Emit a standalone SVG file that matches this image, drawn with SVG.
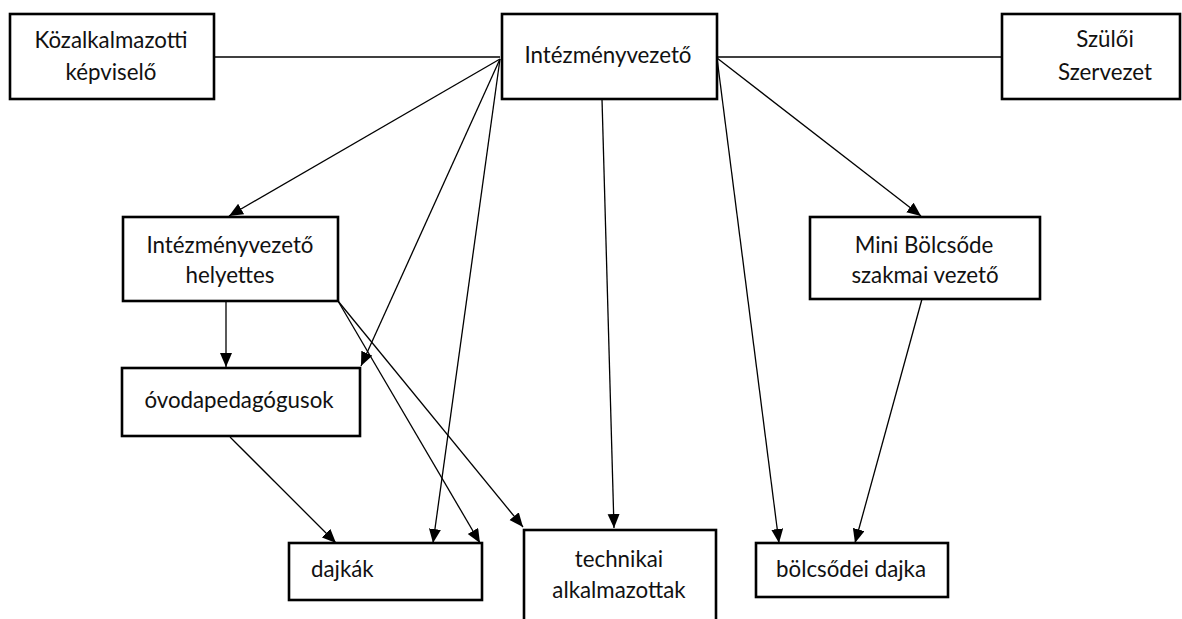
<svg xmlns="http://www.w3.org/2000/svg" width="1182" height="619" viewBox="0 0 1182 619">
<style>
.box{fill:#fff;stroke:#000;stroke-width:2.6}
.t{font-family:Lato,"Open Sans",sans-serif;font-size:22.3px;fill:#111}
.c{text-anchor:middle}
.ln{stroke:#000;stroke-width:1.3;fill:none}
.ar{marker-end:url(#ah)}
</style>
<defs>
<marker id="ah" markerUnits="userSpaceOnUse" markerWidth="15" markerHeight="13" refX="14" refY="6" orient="auto">
<path d="M0,0 L14,6 L0,12 z" fill="#000"/>
</marker>
</defs>
<rect width="1182" height="619" fill="#fff"/>
<g id="connectors">
<line class="ln" x1="214" y1="57" x2="500" y2="57"/>
<line class="ln" x1="717" y1="57" x2="1002" y2="57"/>
<line class="ln ar" x1="500" y1="59" x2="229" y2="216"/>
<line class="ln ar" x1="500" y1="59" x2="361" y2="366"/>
<line class="ln ar" x1="500" y1="59" x2="433" y2="543"/>
<line class="ln ar" x1="602" y1="99" x2="614" y2="528"/>
<line class="ln ar" x1="717" y1="58" x2="779" y2="543"/>
<line class="ln ar" x1="717" y1="58" x2="921" y2="216"/>
<line class="ln ar" x1="226" y1="301" x2="226" y2="367"/>
<line class="ln ar" x1="338" y1="301" x2="480" y2="543"/>
<line class="ln ar" x1="338" y1="301" x2="523" y2="527"/>
<line class="ln ar" x1="230" y1="437" x2="336" y2="543"/>
<line class="ln ar" x1="922" y1="299" x2="855" y2="543"/>
</g>
<g id="kozalkalmazotti">
<rect class="box" x="10" y="14" width="204" height="85"/>
<text class="t c" x="111" y="48">Közalkalmazotti</text>
<text class="t c" x="111" y="80">képviselő</text>
</g>
<g id="intezmenyvezeto">
<rect class="box" x="502" y="14" width="215" height="85"/>
<text class="t c" x="608" y="63">Intézményvezető</text>
</g>
<g id="szuloi">
<rect class="box" x="1002" y="14" width="178" height="85"/>
<text class="t c" x="1105" y="47">Szülői</text>
<text class="t c" x="1105" y="80">Szervezet</text>
</g>
<g id="helyettes">
<rect class="box" x="123" y="217" width="215" height="84"/>
<text class="t c" x="230" y="253">Intézményvezető</text>
<text class="t c" x="230" y="283">helyettes</text>
</g>
<g id="ovodapedagogusok">
<rect class="box" x="122" y="368" width="238" height="68"/>
<text class="t c" x="239" y="408">óvodapedagógusok</text>
</g>
<g id="mini-bolcsode">
<rect class="box" x="810" y="217" width="230" height="82"/>
<text class="t c" x="924" y="253">Mini Bölcsőde</text>
<text class="t c" x="925" y="283">szakmai vezető</text>
</g>
<g id="dajkak">
<rect class="box" x="289" y="543" width="193" height="57"/>
<text class="t" x="311" y="577">dajkák</text>
</g>
<g id="technikai">
<rect class="box" x="524" y="530" width="192" height="120"/>
<text class="t c" x="619" y="567">technikai</text>
<text class="t c" x="619" y="598">alkalmazottak</text>
</g>
<g id="bolcsodei-dajka">
<rect class="box" x="756" y="543" width="192" height="54"/>
<text class="t c" x="851" y="577">bölcsődei dajka</text>
</g>
</svg>
